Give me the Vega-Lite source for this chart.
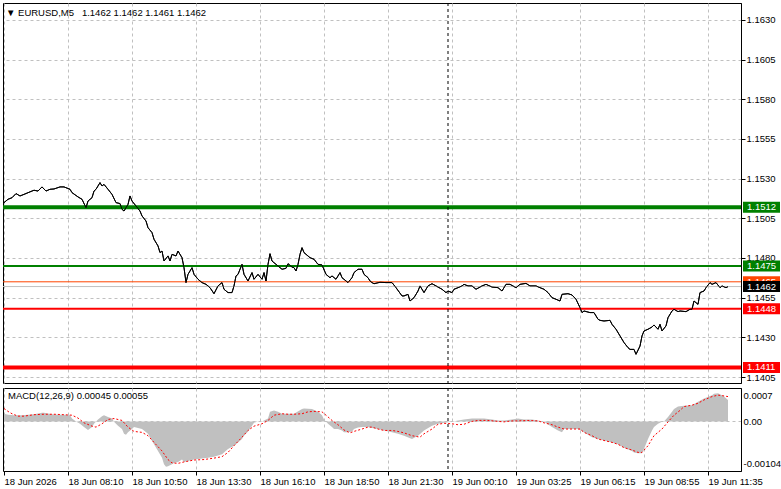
{
  "$schema": "https://vega.github.io/schema/vega-lite/v6.json",
  "padding": {"left": 2, "top": 2, "right": 0, "bottom": 0},
  "background": "white",
  "config": {
    "view": {"stroke": "#000000", "strokeWidth": 1},
    "font": "Liberation Sans",
    "axis": {"labelFont": "Liberation Sans", "labelFontSize": 9.5, "labelColor": "#000000", "gridColor": "#c0c0c0", "gridDash": [3, 3], "gridWidth": 1, "domainColor": "#000000", "tickColor": "#000000"},
    "concat": {"spacing": 3}
  },
  "datasets": {
    "price": [
      {"bar":0,"close":1.15149},{"bar":2,"close":1.15170},{"bar":4,"close":1.15180},{"bar":6,"close":1.15206},{"bar":8,"close":1.15191},{"bar":10,"close":1.15201},{"bar":14,"close":1.15222},{"bar":15,"close":1.15227},{"bar":17,"close":1.15222},{"bar":19,"close":1.15248},{"bar":21,"close":1.15222},{"bar":23,"close":1.15233},{"bar":25,"close":1.15235},{"bar":28,"close":1.15248},{"bar":30,"close":1.15248},{"bar":33,"close":1.15233},{"bar":34,"close":1.15212},{"bar":37,"close":1.15185},{"bar":39,"close":1.15170},{"bar":41,"close":1.15117},{"bar":42,"close":1.15159},{"bar":44,"close":1.15180},{"bar":45,"close":1.15222},{"bar":46,"close":1.15233},{"bar":48,"close":1.15275},{"bar":49,"close":1.15254},{"bar":50,"close":1.15264},{"bar":52,"close":1.15233},{"bar":54,"close":1.15201},{"bar":56,"close":1.15149},{"bar":58,"close":1.15143},{"bar":59,"close":1.15107},{"bar":60,"close":1.15096},{"bar":62,"close":1.15138},{"bar":63,"close":1.15191},{"bar":64,"close":1.15159},{"bar":66,"close":1.15128},{"bar":68,"close":1.15096},{"bar":69,"close":1.15065},{"bar":71,"close":1.15033},{"bar":72,"close":1.14991},{"bar":74,"close":1.14960},{"bar":75,"close":1.14918},{"bar":77,"close":1.14876},{"bar":78,"close":1.14834},{"bar":79,"close":1.14844},{"bar":80,"close":1.14781},{"bar":82,"close":1.14813},{"bar":83,"close":1.14781},{"bar":84,"close":1.14823},{"bar":86,"close":1.14813},{"bar":87,"close":1.14844},{"bar":89,"close":1.14802},{"bar":90,"close":1.14739},{"bar":91,"close":1.14645},{"bar":92,"close":1.14697},{"bar":94,"close":1.14739},{"bar":95,"close":1.14697},{"bar":97,"close":1.14666},{"bar":99,"close":1.14645},{"bar":101,"close":1.14634},{"bar":102,"close":1.14624},{"bar":103,"close":1.14613},{"bar":105,"close":1.14575},{"bar":107,"close":1.14624},{"bar":109,"close":1.14645},{"bar":110,"close":1.14603},{"bar":112,"close":1.14582},{"bar":114,"close":1.14582},{"bar":115,"close":1.14624},{"bar":116,"close":1.14687},{"bar":117,"close":1.14697},{"bar":119,"close":1.14760},{"bar":120,"close":1.14697},{"bar":122,"close":1.14655},{"bar":124,"close":1.14708},{"bar":125,"close":1.14666},{"bar":127,"close":1.14697},{"bar":129,"close":1.14666},{"bar":130,"close":1.14708},{"bar":131,"close":1.14655},{"bar":132,"close":1.14760},{"bar":133,"close":1.14827},{"bar":134,"close":1.14781},{"bar":136,"close":1.14760},{"bar":139,"close":1.14729},{"bar":141,"close":1.14735},{"bar":142,"close":1.14764},{"bar":144,"close":1.14743},{"bar":145,"close":1.14739},{"bar":146,"close":1.14718},{"bar":147,"close":1.14760},{"bar":148,"close":1.14823},{"bar":149,"close":1.14865},{"bar":150,"close":1.14834},{"bar":153,"close":1.14802},{"bar":155,"close":1.14792},{"bar":157,"close":1.14760},{"bar":159,"close":1.14756},{"bar":161,"close":1.14697},{"bar":163,"close":1.14676},{"bar":164,"close":1.14687},{"bar":166,"close":1.14666},{"bar":168,"close":1.14708},{"bar":169,"close":1.14676},{"bar":172,"close":1.14645},{"bar":174,"close":1.14676},{"bar":175,"close":1.14708},{"bar":177,"close":1.14729},{"bar":179,"close":1.14729},{"bar":180,"close":1.14697},{"bar":182,"close":1.14676},{"bar":183,"close":1.14655},{"bar":184,"close":1.14645},{"bar":185,"close":1.14638},{"bar":188,"close":1.14647},{"bar":191,"close":1.14645},{"bar":194,"close":1.14645},{"bar":196,"close":1.14613},{"bar":199,"close":1.14561},{"bar":200,"close":1.14561},{"bar":202,"close":1.14571},{"bar":203,"close":1.14529},{"bar":205,"close":1.14550},{"bar":207,"close":1.14592},{"bar":208,"close":1.14624},{"bar":210,"close":1.14582},{"bar":212,"close":1.14624},{"bar":214,"close":1.14638},{"bar":216,"close":1.14624},{"bar":219,"close":1.14603},{"bar":221,"close":1.14582},{"bar":222,"close":1.14592},{"bar":224,"close":1.14582},{"bar":225,"close":1.14603},{"bar":227,"close":1.14613},{"bar":229,"close":1.14624},{"bar":230,"close":1.14634},{"bar":232,"close":1.14624},{"bar":234,"close":1.14624},{"bar":236,"close":1.14603},{"bar":239,"close":1.14624},{"bar":241,"close":1.14634},{"bar":244,"close":1.14617},{"bar":247,"close":1.14613},{"bar":249,"close":1.14592},{"bar":251,"close":1.14634},{"bar":253,"close":1.14634},{"bar":256,"close":1.14613},{"bar":258,"close":1.14634},{"bar":261,"close":1.14640},{"bar":263,"close":1.14624},{"bar":266,"close":1.14624},{"bar":268,"close":1.14613},{"bar":270,"close":1.14603},{"bar":272,"close":1.14582},{"bar":274,"close":1.14550},{"bar":276,"close":1.14540},{"bar":278,"close":1.14529},{"bar":279,"close":1.14571},{"bar":282,"close":1.14575},{"bar":284,"close":1.14567},{"bar":286,"close":1.14540},{"bar":288,"close":1.14487},{"bar":289,"close":1.14456},{"bar":290,"close":1.14466},{"bar":293,"close":1.14456},{"bar":295,"close":1.14456},{"bar":297,"close":1.14414},{"bar":298,"close":1.14407},{"bar":300,"close":1.14403},{"bar":303,"close":1.14407},{"bar":304,"close":1.14382},{"bar":306,"close":1.14351},{"bar":308,"close":1.14309},{"bar":310,"close":1.14267},{"bar":312,"close":1.14235},{"bar":313,"close":1.14224},{"bar":315,"close":1.14224},{"bar":316,"close":1.14193},{"bar":318,"close":1.14245},{"bar":319,"close":1.14309},{"bar":320,"close":1.14340},{"bar":322,"close":1.14351},{"bar":324,"close":1.14365},{"bar":325,"close":1.14378},{"bar":327,"close":1.14351},{"bar":328,"close":1.14382},{"bar":329,"close":1.14340},{"bar":331,"close":1.14372},{"bar":332,"close":1.14424},{"bar":334,"close":1.14466},{"bar":335,"close":1.14477},{"bar":337,"close":1.14462},{"bar":338,"close":1.14466},{"bar":341,"close":1.14462},{"bar":343,"close":1.14477},{"bar":344,"close":1.14477},{"bar":345,"close":1.14529},{"bar":347,"close":1.14508},{"bar":348,"close":1.14582},{"bar":350,"close":1.14592},{"bar":351,"close":1.14613},{"bar":353,"close":1.14645},{"bar":354,"close":1.14634},{"bar":356,"close":1.14645},{"bar":358,"close":1.14613},{"bar":359,"close":1.14624},{"bar":361,"close":1.14613},{"bar":362,"close":1.14620}
    ],
    "levels": [
      {"name":"R2","price":1.1512},{"name":"R1","price":1.1475},{"name":"Ask","price":1.1465},{"name":"Bid","price":1.1462},{"name":"S1","price":1.1448},{"name":"S2","price":1.1411}
    ],
    "hist": [
      {"bar":0,"macd":0.00016},{"bar":2,"macd":0.00014},{"bar":5,"macd":0.00013},{"bar":9,"macd":0.00013},{"bar":12,"macd":0.00014},{"bar":15,"macd":0.00015},{"bar":19,"macd":0.00018},{"bar":20,"macd":0.00018},{"bar":24,"macd":0.00015},{"bar":27,"macd":0.00014},{"bar":30,"macd":0.00014},{"bar":33,"macd":0.00013},{"bar":34,"macd":0.00006},{"bar":36,"macd":0},{"bar":38,"macd":-0.00005},{"bar":40,"macd":-0.00012},{"bar":42,"macd":-0.00018},{"bar":44,"macd":-0.00012},{"bar":45,"macd":-0.00005},{"bar":47,"macd":0.00004},{"bar":49,"macd":0.00011},{"bar":50,"macd":0.00013},{"bar":52,"macd":0.00009},{"bar":54,"macd":0.00006},{"bar":55,"macd":-0.00001},{"bar":57,"macd":-0.00009},{"bar":59,"macd":-0.00016},{"bar":60,"macd":-0.00026},{"bar":61,"macd":-0.00028},{"bar":62,"macd":-0.00023},{"bar":64,"macd":-0.00016},{"bar":65,"macd":-0.00012},{"bar":69,"macd":-0.00016},{"bar":72,"macd":-0.00026},{"bar":75,"macd":-0.00048},{"bar":77,"macd":-0.00062},{"bar":79,"macd":-0.00076},{"bar":80,"macd":-0.0009},{"bar":81,"macd":-0.00095},{"bar":82,"macd":-0.00094},{"bar":84,"macd":-0.0009},{"bar":85,"macd":-0.00087},{"bar":87,"macd":-0.00085},{"bar":89,"macd":-0.0008},{"bar":90,"macd":-0.00085},{"bar":92,"macd":-0.00083},{"bar":95,"macd":-0.0008},{"bar":99,"macd":-0.00078},{"bar":102,"macd":-0.00076},{"bar":105,"macd":-0.00074},{"bar":109,"macd":-0.00069},{"bar":112,"macd":-0.00058},{"bar":115,"macd":-0.00051},{"bar":117,"macd":-0.00044},{"bar":119,"macd":-0.00037},{"bar":120,"macd":-0.0003},{"bar":122,"macd":-0.00021},{"bar":124,"macd":-0.00009},{"bar":125,"macd":-0.00003},{"bar":127,"macd":0},{"bar":129,"macd":0},{"bar":130,"macd":0.00002},{"bar":132,"macd":0.00006},{"bar":133,"macd":0.0002},{"bar":135,"macd":0.00023},{"bar":137,"macd":0.0002},{"bar":139,"macd":0.00016},{"bar":142,"macd":0.00016},{"bar":145,"macd":0.00016},{"bar":149,"macd":0.00026},{"bar":150,"macd":0.00027},{"bar":154,"macd":0.00026},{"bar":157,"macd":0.0002},{"bar":159,"macd":0.00013},{"bar":160,"macd":0.00004},{"bar":162,"macd":-0.00005},{"bar":164,"macd":-0.00012},{"bar":165,"macd":-0.00016},{"bar":167,"macd":-0.00016},{"bar":169,"macd":-0.00019},{"bar":170,"macd":-0.00023},{"bar":172,"macd":-0.00023},{"bar":174,"macd":-0.00021},{"bar":175,"macd":-0.00016},{"bar":177,"macd":-0.00013},{"bar":179,"macd":-0.00012},{"bar":182,"macd":-0.00012},{"bar":184,"macd":-0.00014},{"bar":187,"macd":-0.00016},{"bar":190,"macd":-0.00019},{"bar":194,"macd":-0.00023},{"bar":197,"macd":-0.00026},{"bar":200,"macd":-0.0003},{"bar":204,"macd":-0.00037},{"bar":207,"macd":-0.0003},{"bar":210,"macd":-0.00019},{"bar":214,"macd":-0.00009},{"bar":217,"macd":-0.00005},{"bar":220,"macd":-0.00003},{"bar":224,"macd":-0.00001},{"bar":227,"macd":0.00002},{"bar":230,"macd":0.00004},{"bar":234,"macd":0.00006},{"bar":240,"macd":0.00006},{"bar":244,"macd":0.00004},{"bar":247,"macd":0.00002},{"bar":250,"macd":0.00002},{"bar":254,"macd":0.00004},{"bar":257,"macd":0.00006},{"bar":260,"macd":0.00004},{"bar":264,"macd":0.00004},{"bar":267,"macd":0.00002},{"bar":270,"macd":-0.00001},{"bar":274,"macd":-0.00012},{"bar":277,"macd":-0.00019},{"bar":279,"macd":-0.00023},{"bar":280,"macd":-0.00016},{"bar":284,"macd":-0.00016},{"bar":287,"macd":-0.00016},{"bar":290,"macd":-0.00023},{"bar":294,"macd":-0.00033},{"bar":297,"macd":-0.00037},{"bar":300,"macd":-0.0004},{"bar":304,"macd":-0.00044},{"bar":307,"macd":-0.00048},{"bar":310,"macd":-0.00055},{"bar":314,"macd":-0.00062},{"bar":315,"macd":-0.00065},{"bar":317,"macd":-0.00067},{"bar":319,"macd":-0.00067},{"bar":320,"macd":-0.00058},{"bar":322,"macd":-0.00037},{"bar":324,"macd":-0.00019},{"bar":325,"macd":-0.00012},{"bar":327,"macd":-0.00005},{"bar":329,"macd":-0.00001},{"bar":330,"macd":0},{"bar":332,"macd":0.00009},{"bar":334,"macd":0.0002},{"bar":335,"macd":0.00026},{"bar":337,"macd":0.00031},{"bar":340,"macd":0.00033},{"bar":344,"macd":0.00034},{"bar":347,"macd":0.00041},{"bar":350,"macd":0.00048},{"bar":354,"macd":0.00055},{"bar":355,"macd":0.00058},{"bar":357,"macd":0.00059},{"bar":359,"macd":0.00055},{"bar":360,"macd":0.00052},{"bar":362,"macd":0.00045}
    ],
    "signal": [
      {"bar":0,"signal":0.00027},{"bar":2,"signal":0.00021},{"bar":4,"signal":0.00016},{"bar":7,"signal":0.00011},{"bar":10,"signal":0.00011},{"bar":15,"signal":0.00014},{"bar":20,"signal":0.00015},{"bar":25,"signal":0.00015},{"bar":30,"signal":0.00014},{"bar":34,"signal":0.00013},{"bar":37,"signal":0.00007},{"bar":40,"signal":-0.00003},{"bar":44,"signal":-0.0001},{"bar":46,"signal":-0.00012},{"bar":49,"signal":-0.00005},{"bar":52,"signal":0.00004},{"bar":55,"signal":0.00006},{"bar":59,"signal":0.00002},{"bar":62,"signal":-0.00012},{"bar":65,"signal":-0.00021},{"bar":69,"signal":-0.00023},{"bar":72,"signal":-0.0003},{"bar":75,"signal":-0.00044},{"bar":79,"signal":-0.00062},{"bar":82,"signal":-0.0008},{"bar":84,"signal":-0.00087},{"bar":87,"signal":-0.00088},{"bar":90,"signal":-0.00085},{"bar":95,"signal":-0.00081},{"bar":100,"signal":-0.0008},{"bar":105,"signal":-0.00077},{"bar":109,"signal":-0.00074},{"bar":112,"signal":-0.00065},{"bar":115,"signal":-0.00051},{"bar":119,"signal":-0.00033},{"bar":122,"signal":-0.00019},{"bar":125,"signal":-0.0001},{"bar":129,"signal":-0.00005},{"bar":132,"signal":0.00002},{"bar":135,"signal":0.00013},{"bar":139,"signal":0.00016},{"bar":142,"signal":0.00015},{"bar":145,"signal":0.00015},{"bar":149,"signal":0.00016},{"bar":152,"signal":0.0002},{"bar":155,"signal":0.00021},{"bar":159,"signal":0.0002},{"bar":161,"signal":0.00013},{"bar":164,"signal":0.00002},{"bar":167,"signal":-0.00007},{"bar":170,"signal":-0.00018},{"bar":173,"signal":-0.00024},{"bar":175,"signal":-0.00021},{"bar":179,"signal":-0.00016},{"bar":182,"signal":-0.00012},{"bar":184,"signal":-0.00012},{"bar":187,"signal":-0.00016},{"bar":190,"signal":-0.00019},{"bar":194,"signal":-0.00019},{"bar":197,"signal":-0.00021},{"bar":200,"signal":-0.00024},{"bar":204,"signal":-0.0003},{"bar":208,"signal":-0.00033},{"bar":210,"signal":-0.00026},{"bar":214,"signal":-0.00016},{"bar":217,"signal":-0.00006},{"bar":220,"signal":-0.00004},{"bar":224,"signal":-0.00005},{"bar":227,"signal":-0.00007},{"bar":230,"signal":-0.00006},{"bar":234,"signal":0},{"bar":237,"signal":0.00002},{"bar":242,"signal":0.00002},{"bar":247,"signal":0},{"bar":250,"signal":-0.00001},{"bar":254,"signal":0.00001},{"bar":257,"signal":0.00001},{"bar":262,"signal":0.00002},{"bar":267,"signal":0.00001},{"bar":270,"signal":-0.00003},{"bar":274,"signal":-0.00007},{"bar":277,"signal":-0.00012},{"bar":280,"signal":-0.00016},{"bar":284,"signal":-0.00016},{"bar":288,"signal":-0.00016},{"bar":290,"signal":-0.00023},{"bar":294,"signal":-0.0003},{"bar":297,"signal":-0.00037},{"bar":300,"signal":-0.0004},{"bar":304,"signal":-0.00044},{"bar":307,"signal":-0.00048},{"bar":310,"signal":-0.00055},{"bar":314,"signal":-0.0006},{"bar":317,"signal":-0.00065},{"bar":319,"signal":-0.00065},{"bar":322,"signal":-0.00051},{"bar":325,"signal":-0.0003},{"bar":329,"signal":-0.00016},{"bar":332,"signal":-0.00001},{"bar":335,"signal":0.00013},{"bar":338,"signal":0.00023},{"bar":340,"signal":0.00031},{"bar":344,"signal":0.00034},{"bar":347,"signal":0.00038},{"bar":350,"signal":0.00045},{"bar":354,"signal":0.00052},{"bar":357,"signal":0.00055},{"bar":359,"signal":0.00054},{"bar":362,"signal":0.00052}
    ],
    "separator": [{"bar": 222}]
  },
  "vconcat": [
    {
      "width": 738,
      "height": 380,
      "title": {"text": "▼  EURUSD,M5\u00a0\u00a0 1.1462 1.1462 1.1461 1.1462", "anchor": "start", "frame": "group", "offset": -14, "dx": 3, "fontSize": 9.5, "fontWeight": "normal", "font": "Liberation Sans", "color": "#000000"},
      "layer": [
        {
          "data": {"name": "price"},
          "mark": {"type": "line", "color": "#000000", "strokeWidth": 1, "clip": true},
          "encoding": {
            "x": {"field": "bar", "type": "quantitative", "scale": {"domain": [-0.5, 368.5], "nice": false, "zero": false},
                  "axis": {"values": [0,16,32,48,64,80,96,112,128,144,160,176,192,208,224,240,256,272,288,304,320,336,352], "labels": false, "ticks": false, "domain": false, "grid": true, "title": null}},
            "y": {"field": "close", "type": "quantitative", "scale": {"domain": [1.140122, 1.164071], "nice": false, "zero": false},
                  "axis": {"orient": "right", "values": [1.1405,1.143,1.1455,1.148,1.1505,1.153,1.1555,1.158,1.1605,1.163], "format": ".4f", "tickSize": 4, "labelPadding": 1, "grid": true, "domain": true, "title": null, "labelOverlap": false}}
          }
        },
        {
          "data": {"name": "levels"},
          "mark": {"type": "rule", "clip": true},
          "encoding": {
            "y": {"field": "price", "type": "quantitative", "axis": {"title": null}},
            "stroke": {"field": "name", "type": "nominal", "scale": {"domain": ["R2","R1","Ask","Bid","S1","S2"], "range": ["#008000","#008000","#ff4500","#c0c0c0","#ff0000","#ff0000"]}, "legend": null},
            "strokeWidth": {"field": "name", "type": "nominal", "scale": {"type": "ordinal", "domain": ["R2","R1","Ask","Bid","S1","S2"], "range": [4,2,1,1,2,4]}, "legend": null}
          }
        },
        {
          "data": {"name": "price"},
          "mark": {"type": "line", "color": "#000000", "strokeWidth": 1, "clip": true},
          "encoding": {
            "x": {"field": "bar", "type": "quantitative", "axis": {"title": null}},
            "y": {"field": "close", "type": "quantitative", "axis": {"title": null}}
          }
        },
        {
          "data": {"name": "separator"},
          "mark": {"type": "rule", "color": "#000000", "strokeDash": [3, 3], "strokeWidth": 1, "clip": true},
          "encoding": {"x": {"field": "bar", "type": "quantitative", "axis": {"title": null}}}
        },
        {
          "data": {"name": "levels"},
          "transform": [{"filter": "datum.name !== 'Bid'"}],
          "mark": {"type": "tick", "orient": "horizontal", "size": 37, "thickness": 11, "xOffset": 20.5, "opacity": 1, "clip": false},
          "encoding": {
            "x": {"value": "width"},
            "y": {"field": "price", "type": "quantitative", "axis": {"title": null}},
            "fill": {"field": "name", "type": "nominal", "scale": {"domain": ["R2","R1","Ask","Bid","S1","S2"], "range": ["#008000","#008000","#ff4500","#000000","#ff0000","#ff0000"]}, "legend": null}
          }
        },
        {
          "data": {"name": "levels"},
          "transform": [{"filter": "datum.name !== 'Bid'"}],
          "mark": {"type": "text", "align": "left", "baseline": "middle", "xOffset": 6, "color": "#ffffff", "fontSize": 9.5, "font": "Liberation Sans", "clip": false},
          "encoding": {
            "x": {"value": "width"},
            "y": {"field": "price", "type": "quantitative", "axis": {"title": null}},
            "text": {"field": "price", "type": "quantitative", "format": ".4f"}
          }
        },
        {
          "data": {"name": "levels"},
          "transform": [{"filter": "datum.name === 'Bid'"}],
          "mark": {"type": "tick", "orient": "horizontal", "size": 37, "thickness": 11, "xOffset": 20.5, "opacity": 1, "clip": false},
          "encoding": {
            "x": {"value": "width"},
            "y": {"field": "price", "type": "quantitative", "axis": {"title": null}},
            "fill": {"field": "name", "type": "nominal", "legend": null}
          }
        },
        {
          "data": {"name": "levels"},
          "transform": [{"filter": "datum.name === 'Bid'"}],
          "mark": {"type": "text", "align": "left", "baseline": "middle", "xOffset": 6, "color": "#ffffff", "fontSize": 9.5, "font": "Liberation Sans", "clip": false},
          "encoding": {
            "x": {"value": "width"},
            "y": {"field": "price", "type": "quantitative", "axis": {"title": null}},
            "text": {"field": "price", "type": "quantitative", "format": ".4f"}
          }
        }
      ]
    },
    {
      "width": 738,
      "height": 83,
      "title": {"text": "MACD(12,26,9) 0.00045 0.00055", "anchor": "start", "frame": "group", "offset": -12, "dx": 5, "fontSize": 9.5, "fontWeight": "normal", "font": "Liberation Sans", "color": "#000000"},
      "layer": [
        {
          "data": {"name": "hist"},
          "mark": {"type": "area", "color": "#c0c0c0", "opacity": 1, "clip": true},
          "encoding": {
            "x": {"field": "bar", "type": "quantitative", "scale": {"domain": [-0.5, 368.5], "nice": false, "zero": false},
                  "axis": {"values": [0,16,32,48,64,80,96,112,128,144,160,176,192,208,224,240,256,272,288,304,320,336,352], "grid": true, "domain": false, "title": null, "labelAlign": "left", "labelPadding": 1, "tickSize": 4, "labelOverlap": false, "labelFlush": false,
                           "tickOpacity": {"condition": {"test": "datum.value % 32 === 0", "value": 1}, "value": 0},
                           "labelExpr": "datum.value % 32 === 0 ? ['18 Jun 2026','18 Jun 08:10','18 Jun 10:50','18 Jun 13:30','18 Jun 16:10','18 Jun 18:50','18 Jun 21:30','19 Jun 00:10','19 Jun 03:25','19 Jun 06:15','19 Jun 08:55','19 Jun 11:35'][datum.value / 32] : ''"}},
            "y": {"field": "macd", "type": "quantitative", "scale": {"domain": [-0.00104, 0.0007], "nice": false, "zero": false},
                  "axis": {"orient": "right", "values": [0.0007, 0, -0.00104], "ticks": false, "labelPadding": 2, "domain": true, "grid": true, "title": null, "labelOverlap": false, "labelFlush": false,
                           "gridOpacity": {"condition": {"test": "datum.value === 0", "value": 1}, "value": 0},
                           "labelBaseline": {"condition": [{"test": "datum.value > 0.0001", "value": "top"}, {"test": "datum.value < -0.0001", "value": "bottom"}], "value": "middle"},
                           "labelOffset": {"condition": [{"test": "datum.value > 0.0001", "value": 2}, {"test": "datum.value < -0.0001", "value": -3}], "value": 0},
                           "labelExpr": "datum.value === 0 ? '0.00' : (datum.value > 0 ? '0.0007' : '-0.00104')"}},
            "y2": {"datum": 0}
          }
        },
        {
          "data": {"name": "signal"},
          "mark": {"type": "line", "color": "#ff0000", "strokeWidth": 1, "strokeDash": [2, 2], "clip": true},
          "encoding": {
            "x": {"field": "bar", "type": "quantitative", "axis": {"title": null}},
            "y": {"field": "signal", "type": "quantitative", "axis": {"title": null}}
          }
        },
        {
          "data": {"name": "separator"},
          "mark": {"type": "rule", "color": "#000000", "strokeDash": [3, 3], "strokeWidth": 1, "clip": true},
          "encoding": {"x": {"field": "bar", "type": "quantitative", "axis": {"title": null}}}
        }
      ]
    }
  ]
}
